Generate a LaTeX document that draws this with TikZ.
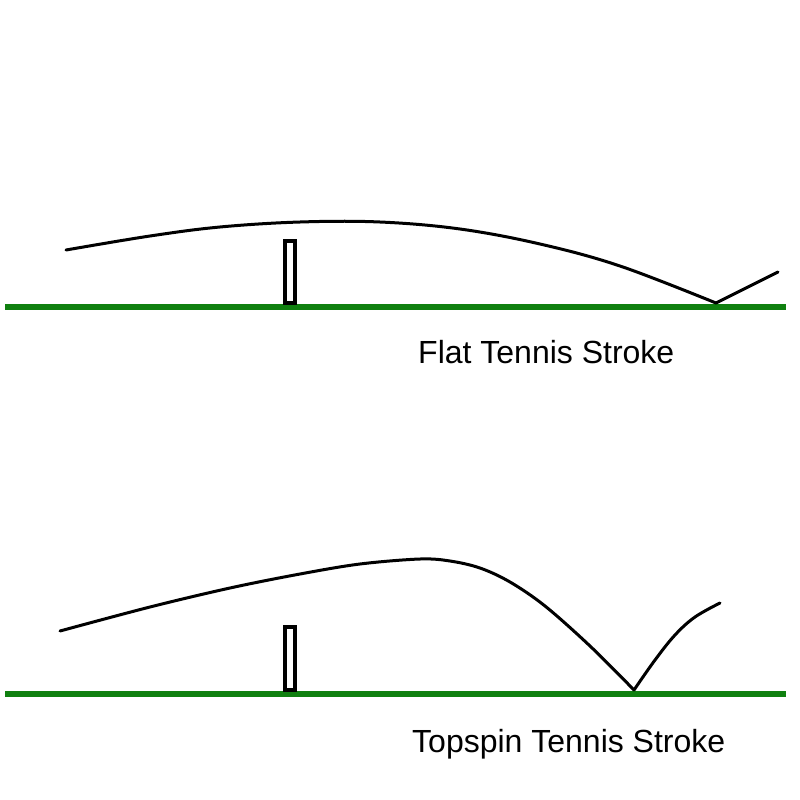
\documentclass[tikz,border=0pt]{standalone}
\usepackage{fontspec}
\setmainfont{Liberation Sans}
\definecolor{court}{RGB}{16,128,16}
\begin{document}
\begin{tikzpicture}[x=1pt,y=-1pt,
  ground/.style={draw=court,line width=6pt},
  ball/.style={draw=black,line width=3pt,line cap=round,line join=round},
  netpost/.style={draw=black,line width=3.5pt,fill=white},
  caption/.style={font=\fontsize{32}{38}\selectfont,anchor=base west,inner sep=0pt}]
\useasboundingbox (0,0) rectangle (800,800);
% flat stroke
\coordinate (g1a) at (5,307);
\coordinate (g1b) at (786,307);
\draw[ground] (g1a) -- (g1b);
\draw[netpost] (285,241) rectangle (295,303);
\coordinate (b1) at (716,303);
\coordinate (e1) at (778,272);
\draw[ball] plot[smooth,tension=0.6] coordinates {(66,250) (150,236) (220,227) (300,222) (380,222) (460,229) (540,244) (620,266) (716,303)};
\draw[ball] (b1) -- (e1);
\node[caption] (t1) at (418,363) {Flat Tennis Stroke};
% topspin stroke
\coordinate (g2a) at (5,694);
\coordinate (g2b) at (786,694);
\draw[ground] (g2a) -- (g2b);
\draw[netpost] (285,627) rectangle (295,690);
\coordinate (b2) at (634,690);
\draw[ball] plot[smooth,tension=0.55] coordinates {(60,631) (150,607) (230,588) (300,574) (360,564) (420,559) (450,561) (480,568) (510,582) (545,606) (590,646) (634,690)};
\draw[ball] plot[smooth,tension=0.6] coordinates {(634,690) (655,660) (675,635) (695,617) (720,603)};
\node[caption] (t2) at (412,752) {Topspin Tennis Stroke};
\end{tikzpicture}
\end{document}
